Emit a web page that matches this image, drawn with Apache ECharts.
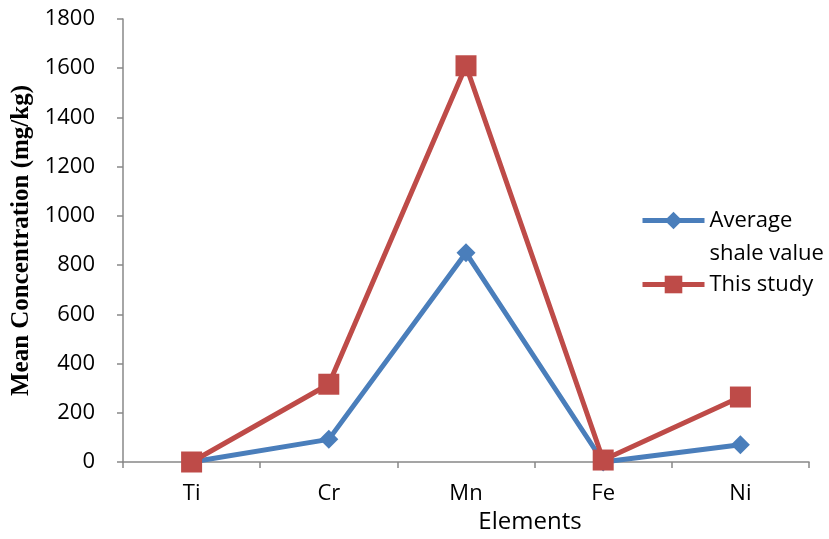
<!DOCTYPE html>
<html>
<head>
<meta charset="utf-8">
<script src="https://cdn.jsdelivr.net/npm/echarts@6/dist/echarts.min.js"></script>
<style>
	html, body { margin: 0; padding: 0; background: #fff; }
	#chart { width: 829px; height: 539px; }
</style>
</head>
<body>
<div id="chart"></div>
<script>
	// 数据
	const elements = ['Ti', 'Cr', 'Mn', 'Fe', 'Ni'];
	const shaleValues = [0, 92, 850, 0, 70];
	const studyValues = [0, 316, 1610, 8, 264];
	const seriesNames = ['Average\nshale value', 'This study'];

	const axisFont = 'Open Sans';

	let myChart = echarts.init(document.getElementById('chart'));
	myChart.setOption({
		animation: false,
		grid: {
			left: 123,
			right: 20,
			top: 19,
			bottom: 77
		},
		legend: {
			orient: 'vertical',
			left: 640,
			top: 171,
			padding: 0,
			itemWidth: 62,
			itemHeight: 22,
			itemGap: -2,
			lineStyle: { width: 5 },
			// 第一项图标对齐第一行文字
			formatter: function (name) {
				return name === seriesNames[0] ? ' \n' + name : name;
			},
			textStyle: {
				fontFamily: axisFont,
				fontSize: 22,
				color: '#000',
				lineHeight: 33
			},
			data: seriesNames
		},
		xAxis: {
			type: 'category',
			data: elements,
			boundaryGap: true,
			name: 'Elements',
			nameLocation: 'middle',
			nameGap: 46,
			nameTextStyle: {
				fontFamily: axisFont,
				fontSize: 24,
				color: '#000',
				padding: [0, 0, 0, 128]
			},
			axisLine: { lineStyle: { color: '#888', width: 1.5 } },
			axisTick: { show: true, length: 6, lineStyle: { color: '#888', width: 1.5 } },
			axisLabel: {
				margin: 21,
				fontFamily: axisFont,
				fontSize: 22,
				color: '#000'
			}
		},
		yAxis: {
			type: 'value',
			min: 0,
			max: 1800,
			interval: 200,
			name: 'Mean Concentration (mg/kg)',
			nameLocation: 'middle',
			nameGap: 88,
			nameTextStyle: {
				fontFamily: 'Liberation Serif',
				fontWeight: 'bold',
				fontSize: 25,
				color: '#000'
			},
			splitLine: { show: false },
			axisLine: { show: true, lineStyle: { color: '#888', width: 1.5 } },
			axisTick: { show: true, length: 6, lineStyle: { color: '#888', width: 1.5 } },
			axisLabel: {
				margin: 28,
				fontFamily: axisFont,
				fontSize: 22,
				color: '#000',
				formatter: function (v) { return String(v); }
			}
		},
		series: [
			{
				name: seriesNames[0],
				type: 'line',
				data: shaleValues,
				symbol: 'diamond',
				symbolSize: 19,
				lineStyle: { color: '#4A7EBB', width: 5 },
				itemStyle: { color: '#4A7EBB' },
				z: 2
			},
			{
				name: seriesNames[1],
				type: 'line',
				data: studyValues,
				symbol: 'rect',
				symbolSize: 21,
				lineStyle: { color: '#BE4B48', width: 5 },
				itemStyle: { color: '#BE4B48' },
				z: 3
			}
		]
	});
</script>
</body>
</html>
